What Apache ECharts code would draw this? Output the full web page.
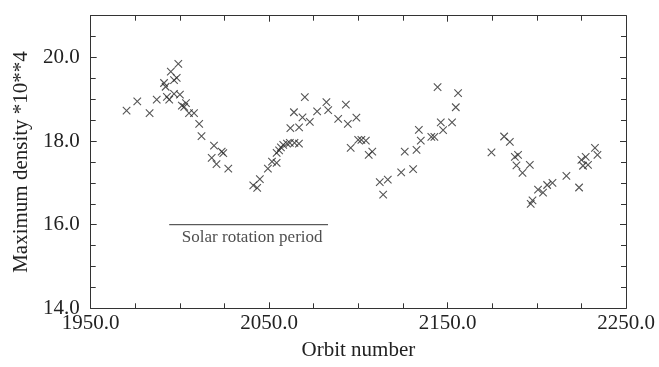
<!DOCTYPE html>
<html>
<head>
<meta charset="utf-8">
<script src="https://cdn.jsdelivr.net/npm/echarts@6/dist/echarts.min.js"></script>
<style>html,body{margin:0;padding:0;background:#fff}#c{width:659px;height:367px}</style>
</head>
<body>
<div id="c"></div>
<script>
var orbitNumbers = [1970.1,1976.1,1983.0,1987.0,1991.1,1992.0,1994.9,1999.1,1996.7,1998.2,1992.7,1994.0,1996.7,2000.0,2001.1,2003.4,2002.4,2005.1,2007.9,2010.8,2012.1,2019.1,2023.4,2024.3,2017.8,2020.5,2027.1,
2041.1,2043.3,2044.8,2049.3,2051.6,2054.2,2054.2,2055.6,2056.6,2057.9,2060.0,2061.6,2064.2,2066.7,2061.9,2066.8,2063.9,2070.0,2068.7,2072.8,2076.9,2082.1,2083.1,2088.7,2093.0,2094.1,2098.9,2095.7,2099.9,2101.7,2104.2,2105.8,2107.8,2112.0,2116.5,2113.9,2124.0,2130.7,2126.0,2132.6,2133.9,2135.0,2140.9,2142.6,2144.4,2146.2,2147.5,2152.5,2154.6,2155.9,
2174.6,2181.7,2184.9,2187.7,2189.5,2188.6,2192.0,2196.1,2196.6,2197.6,2200.7,2203.5,2205.8,2208.8,2216.6,2223.7,2225.0,2227.4,2225.9,2228.7,2232.6,2234.0];
var maxDensity = [18.73,18.95,18.67,18.99,19.39,19.30,19.66,19.85,19.46,19.51,19.06,18.99,19.13,19.11,18.85,18.91,18.82,18.67,18.67,18.41,18.12,17.89,17.75,17.71,17.60,17.45,17.34,
16.94,16.88,17.09,17.34,17.51,17.48,17.72,17.78,17.85,17.91,17.94,17.96,17.96,17.94,18.31,18.33,18.69,19.05,18.57,18.46,18.71,18.93,18.74,18.53,18.87,18.41,18.56,17.84,18.03,18.03,18.01,17.67,17.75,17.02,17.08,16.72,17.25,17.33,17.75,17.79,18.27,18.01,18.10,18.10,19.29,18.45,18.26,18.45,18.81,19.15,
17.73,18.11,17.98,17.62,17.67,17.42,17.24,17.43,16.50,16.58,16.84,16.77,16.95,17.00,17.17,16.89,17.55,17.62,17.41,17.43,17.84,17.67];
var solarLineOrbits = [1994, 2083];
var solarLineDensity = [16.0, 16.0];
var solarLabelPos = [2040.5, 15.69];
var solarLabelText = 'Solar rotation period';
var xTickLabels = ['1950.0','2050.0','2150.0','2250.0'];
var yTickLabels = ['14.0','16.0','18.0','20.0'];

var FONT = '"Liberation Serif","Times New Roman",serif';
var INK = '#222';
var AX = '#333';

function axisCommon(extra) {
  var base = {
    type: 'value',
    axisLine: {show: true, onZero: false, lineStyle: {color: AX, width: 1}},
    axisTick: {show: true, inside: true, length: 6, lineStyle: {color: AX}},
    minorTick: {show: true, splitNumber: 4, length: 5, lineStyle: {color: AX}},
    splitLine: {show: false},
    minorSplitLine: {show: false}
  };
  for (var k in extra) base[k] = extra[k];
  return base;
}

var scatterData = orbitNumbers.map(function (x, i) { return [x, maxDensity[i]]; });
var solarLine = solarLineOrbits.map(function (x, i) { return [x, solarLineDensity[i]]; });

var chart = echarts.init(document.getElementById('c'), null, {renderer: 'canvas'});
chart.setOption({
  animation: false,
  backgroundColor: '#fff',
  grid: {left: 90.7, right: 33, top: 15.7, bottom: 58.7, containLabel: false},
  xAxis: [
    axisCommon({
      position: 'bottom', min: 1950, max: 2250, interval: 100,
      axisLabel: {show: true, margin: 5, color: INK, fontFamily: FONT, fontSize: 21,
        formatter: function (v) { var s = v.toFixed(1); return xTickLabels.indexOf(s) >= 0 ? s : ''; }},
      name: 'Orbit number', nameLocation: 'middle', nameGap: 32,
      nameTextStyle: {color: INK, fontFamily: FONT, fontSize: 21}
    }),
    axisCommon({
      position: 'top', min: 1950, max: 2250, interval: 100,
      axisLabel: {show: false}
    })
  ],
  yAxis: [
    axisCommon({
      position: 'left', min: 14, max: 21, interval: 2,
      axisLabel: {show: true, margin: 11, color: INK, fontFamily: FONT, fontSize: 21, showMaxLabel: false,
        formatter: function (v) { var s = v.toFixed(1); return yTickLabels.indexOf(s) >= 0 ? s : ''; }},
      name: 'Maximum density *10**4', nameLocation: 'middle', nameGap: 57,
      nameTextStyle: {color: INK, fontFamily: FONT, fontSize: 21}
    }),
    axisCommon({
      position: 'right', min: 14, max: 21, interval: 2,
      axisLabel: {show: false}
    })
  ],
  series: [
    {
      type: 'scatter', xAxisIndex: 0, yAxisIndex: 0,
      data: scatterData,
      symbol: 'path://M0,0L10,10M10,0L0,10',
      symbolSize: 7.5,
      itemStyle: {color: 'rgba(0,0,0,0)', borderColor: '#2a2a2a', borderWidth: 1.1},
      silent: true
    },
    {
      type: 'line', xAxisIndex: 0, yAxisIndex: 0,
      data: solarLine, symbol: 'none',
      lineStyle: {color: '#333', width: 1},
      silent: true
    },
    {
      type: 'scatter', xAxisIndex: 0, yAxisIndex: 0,
      data: [solarLabelPos], symbolSize: 1,
      itemStyle: {color: 'rgba(0,0,0,0)'},
      label: {show: true, position: 'inside', formatter: solarLabelText,
        color: INK, fontFamily: FONT, fontSize: 17},
      silent: true
    }
  ]
});
</script>
</body>
</html>
